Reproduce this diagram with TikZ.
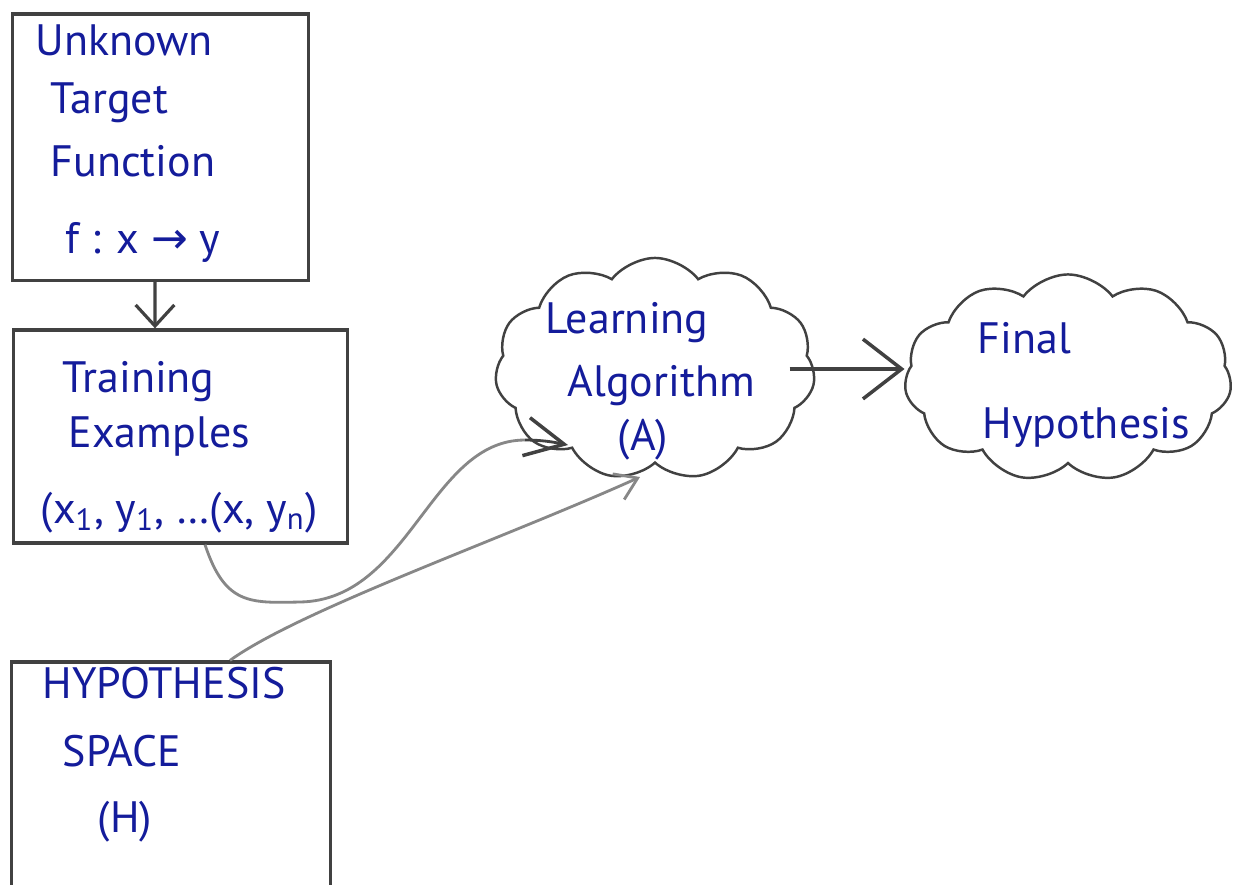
\documentclass[tikz,border=0pt]{standalone}
\usepackage{fontspec}
\setmainfont{PT Sans}
\newfontfamily\symfont{DejaVu Sans}
\usetikzlibrary{arrows.meta,shapes.symbols}
\definecolor{ink}{RGB}{20,28,155}
\definecolor{pencil}{RGB}{65,65,65}
\definecolor{graypen}{RGB}{135,135,135}
\begin{document}
\begin{tikzpicture}[x=0.01cm,y=-0.01cm,
  box/.style={draw=pencil, line width=0.9pt, rectangle, inner sep=0pt},
  hand/.style={text=ink, font=\fontsize{12.5}{15}\selectfont, anchor=base west, inner sep=0pt},
  blob/.style={cloud, cloud puffs=11, cloud puff arc=105, cloud ignores aspect, draw=pencil, line width=0.7pt, inner sep=0pt},
  arr/.style={-{Straight Barb[length=6pt,width=11pt]}, line width=0.9pt, draw=pencil},
  bigarr/.style={-{Straight Barb[length=11pt,width=17pt]}, line width=1pt, draw=pencil},
  curv/.style={line width=0.8pt, draw=graypen},
  tipA/.style={-{Straight Barb[length=11pt,width=11pt,line width=1pt]}},
  tipB/.style={-{Straight Barb[length=6pt,width=8pt]}}]
\useasboundingbox (0,0) rectangle (1243,884);
\fill[white] (0,0) rectangle (1243,884);

% boxes
\node[box, minimum width=2.95cm, minimum height=2.66cm] (target) at (160.5,147) {};
\node[box, minimum width=3.33cm, minimum height=2.13cm] (train) at (180.5,436.5) {};
\node[box, minimum width=3.18cm, minimum height=2.28cm] (hyp) at (171,776) {};

% clouds
\node[blob, minimum width=3.2cm, minimum height=2.22cm] (learn) at (655,369) {};
\node[blob, minimum width=3.27cm, minimum height=2.07cm] (final) at (1068,378) {};

% texts
\node[hand] (t1) at (35,55) {Unknown};
\node[hand] (t2) at (50,113) {Target};
\node[hand] (t3) at (50,176) {Function};
\node[hand] (t4) at (65,253) {f : x {\symfont →} y};

\node[hand] (e1) at (62,392) {Training};
\node[hand] (e2) at (68,447) {Examples};
\node[hand] (e3) at (40,523) {(x\textsubscript{1}, y\textsubscript{1}, …(x, y\textsubscript{n})};

\node[hand] (h1) at (42,698) {HYPOTHESIS};
\node[hand] (h2) at (62,766) {SPACE};
\node[hand] (h3) at (97,832) {(H)};

\node[hand] (l1) at (545,333) {Learning};
\node[hand] (l2) at (567,396) {Algorithm};
\node[hand] (l3) at (617,450) {(A)};

\node[hand] (f1) at (977,353) {Final};
\node[hand] (f2) at (982,438) {Hypothesis};

% connectors
\draw[arr] ([xshift=-0.055cm]target.south) -- ([xshift=-0.255cm]train.north);
\coordinate (outA) at ([xshift=-0.25cm]learn.east);
\draw[bigarr] (outA) -- (outA -| final.west);

\coordinate (inA) at (568,445);
\coordinate (inB) at (640,477);
\draw[curv] ([xshift=0.245cm]train.south) .. controls (225,605) and (250,603) .. (300,602)
  .. controls (410,600) and (430,440) .. (525,440);
\draw[curv, draw=pencil, tipA] (525,440) .. controls (545,440) and (558,443) .. (inA);
\draw[curv, tipB] ([xshift=0.59cm]hyp.north) .. controls (300,610) and (500,540) .. (inB);
\end{tikzpicture}
\end{document}
